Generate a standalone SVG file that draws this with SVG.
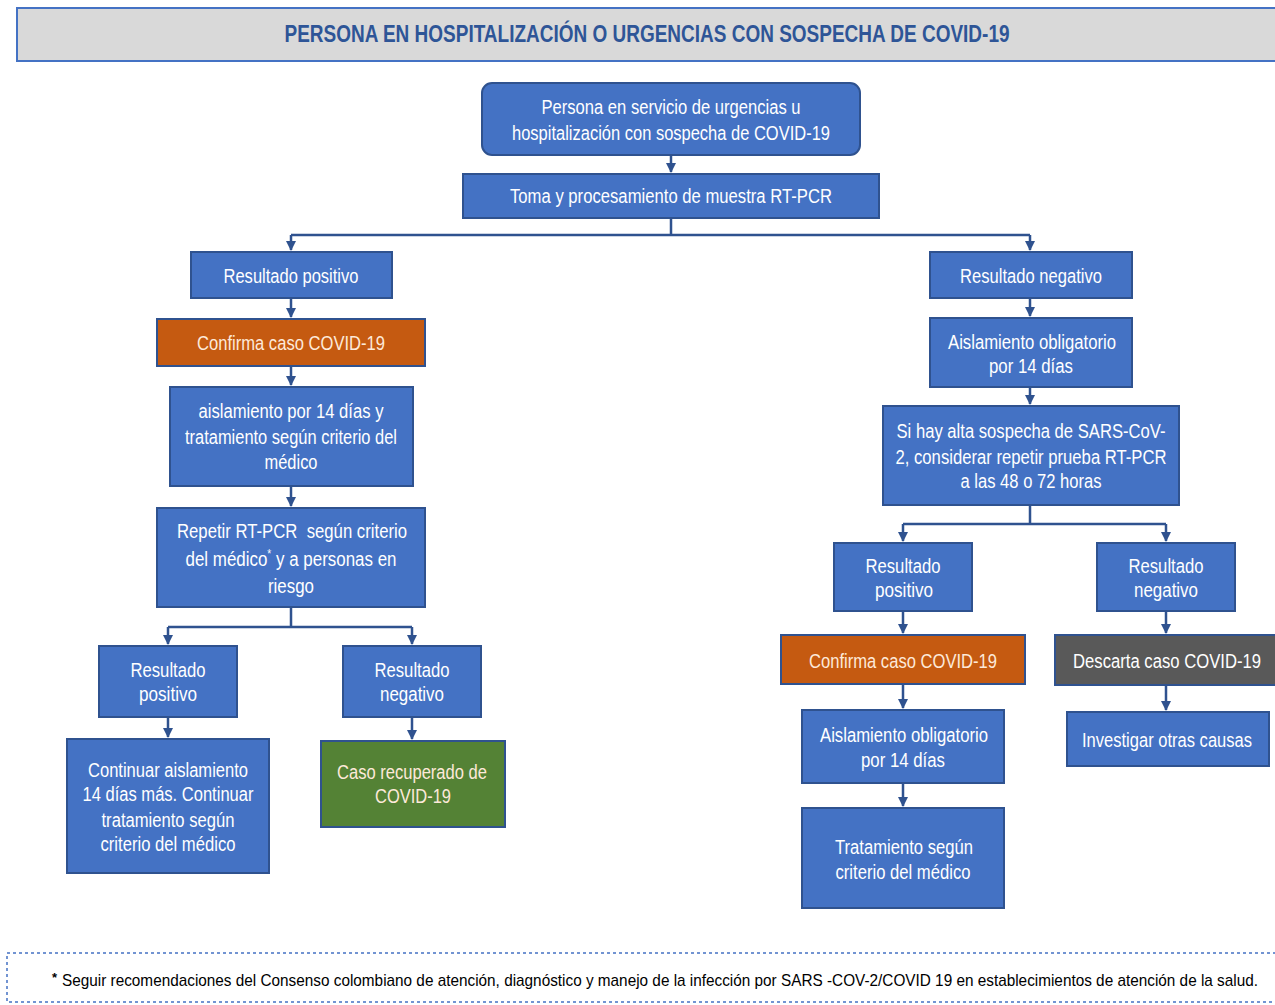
<svg xmlns="http://www.w3.org/2000/svg" width="1275" height="1005" viewBox="0 0 1275 1005">
<defs>
<marker id="ah" viewBox="0 0 10 10" refX="9" refY="5" markerWidth="4" markerHeight="4" orient="auto" markerUnits="strokeWidth">
<path d="M0,0 L10,5 L0,10 z" fill="#2f528f"/>
</marker>
<style>
.n{fill:#4472c4;stroke:#2f528f;stroke-width:2}
.o{fill:#c55a11;stroke:#2f528f;stroke-width:2}
.g{fill:#548235;stroke:#2f528f;stroke-width:2}
.k{fill:#595959;stroke:#2f528f;stroke-width:2}
.t{font-family:"Liberation Sans",Arial,sans-serif;font-size:20px;fill:#ffffff;text-anchor:middle}
.ty{font-family:"Liberation Sans",Arial,sans-serif;font-size:20px;fill:#fde9d9;text-anchor:middle}
.c{fill:none;stroke:#2f528f;stroke-width:2.5}
</style>
</defs>
<rect width="1275" height="1005" fill="#ffffff"/>
<g id="title">
<rect x="17" y="8" width="1270" height="53" fill="#d9d9d9" stroke="#4472c4" stroke-width="2"/>
<text x="647" y="42" font-family="'Liberation Sans',Arial,sans-serif" font-size="23" font-weight="bold" fill="#2e5597" text-anchor="middle" textLength="725" lengthAdjust="spacingAndGlyphs">PERSONA EN HOSPITALIZACIÓN O URGENCIAS CON SOSPECHA DE COVID-19</text>
</g>
<g id="connectors">
<path class="c" d="M671,155 V172" marker-end="url(#ah)"/>
<path class="c" d="M671,218 V235 M291,235 H1030"/>
<path class="c" d="M291,235 V250" marker-end="url(#ah)"/>
<path class="c" d="M1030,235 V250" marker-end="url(#ah)"/>
<path class="c" d="M291,298 V317" marker-end="url(#ah)"/>
<path class="c" d="M291,366 V385" marker-end="url(#ah)"/>
<path class="c" d="M291,486 V506" marker-end="url(#ah)"/>
<path class="c" d="M291,607 V627 M168,627 H412"/>
<path class="c" d="M168,627 V644" marker-end="url(#ah)"/>
<path class="c" d="M412,627 V644" marker-end="url(#ah)"/>
<path class="c" d="M168,717 V737" marker-end="url(#ah)"/>
<path class="c" d="M412,717 V739" marker-end="url(#ah)"/>
<path class="c" d="M1030,298 V316" marker-end="url(#ah)"/>
<path class="c" d="M1030,387 V404" marker-end="url(#ah)"/>
<path class="c" d="M1030,505 V524 M903,524 H1166"/>
<path class="c" d="M903,524 V541" marker-end="url(#ah)"/>
<path class="c" d="M1166,524 V541" marker-end="url(#ah)"/>
<path class="c" d="M903,611 V633" marker-end="url(#ah)"/>
<path class="c" d="M1166,611 V633" marker-end="url(#ah)"/>
<path class="c" d="M903,684 V708" marker-end="url(#ah)"/>
<path class="c" d="M1166,685 V710" marker-end="url(#ah)"/>
<path class="c" d="M903,783 V806" marker-end="url(#ah)"/>
</g>
<g id="n1"><rect class="n" x="482" y="83" width="378" height="72" rx="10"/>
<text class="t" x="671" y="114" textLength="259" lengthAdjust="spacingAndGlyphs">Persona en servicio de urgencias u</text>
<text class="t" x="671" y="140" textLength="318" lengthAdjust="spacingAndGlyphs">hospitalización con sospecha de COVID-19</text></g>
<g id="n2"><rect class="n" x="463" y="174" width="416" height="44"/>
<text class="t" x="671" y="203" textLength="322" lengthAdjust="spacingAndGlyphs">Toma y procesamiento de muestra RT-PCR</text></g>
<g id="n3"><rect class="n" x="191" y="252" width="201" height="46"/>
<text class="t" x="291" y="283" textLength="135" lengthAdjust="spacingAndGlyphs">Resultado positivo</text></g>
<g id="n4"><rect class="o" x="157" y="319" width="268" height="47"/>
<text class="ty" x="291" y="350" textLength="188" lengthAdjust="spacingAndGlyphs">Confirma caso COVID-19</text></g>
<g id="n5"><rect class="n" x="170" y="387" width="243" height="99"/>
<text class="t" x="291" y="418" textLength="185" lengthAdjust="spacingAndGlyphs">aislamiento por 14 días y</text>
<text class="t" x="291" y="444" textLength="212" lengthAdjust="spacingAndGlyphs">tratamiento según criterio del</text>
<text class="t" x="291" y="469" textLength="53" lengthAdjust="spacingAndGlyphs">médico</text></g>
<g id="n6"><rect class="n" x="157" y="508" width="268" height="99"/>
<text class="t" x="292" y="538" textLength="230" lengthAdjust="spacingAndGlyphs" xml:space="preserve">Repetir RT-PCR  según criterio</text>
<text class="t" x="291" y="566" textLength="211" lengthAdjust="spacingAndGlyphs">del médico<tspan font-size="12" dy="-8">*</tspan><tspan dy="8"> y a personas en</tspan></text>
<text class="t" x="291" y="593" textLength="46" lengthAdjust="spacingAndGlyphs">riesgo</text></g>
<g id="n7"><rect class="n" x="99" y="646" width="138" height="71"/>
<text class="t" x="168" y="677" textLength="75" lengthAdjust="spacingAndGlyphs">Resultado</text>
<text class="t" x="168" y="701" textLength="58" lengthAdjust="spacingAndGlyphs">positivo</text></g>
<g id="n8"><rect class="n" x="343" y="646" width="138" height="71"/>
<text class="t" x="412" y="677" textLength="75" lengthAdjust="spacingAndGlyphs">Resultado</text>
<text class="t" x="412" y="701" textLength="64" lengthAdjust="spacingAndGlyphs">negativo</text></g>
<g id="n9"><rect class="n" x="67" y="739" width="202" height="134"/>
<text class="t" x="168" y="777" textLength="160" lengthAdjust="spacingAndGlyphs">Continuar aislamiento</text>
<text class="t" x="168" y="801" textLength="171" lengthAdjust="spacingAndGlyphs">14 días más. Continuar</text>
<text class="t" x="168" y="827" textLength="133" lengthAdjust="spacingAndGlyphs">tratamiento según</text>
<text class="t" x="168" y="851" textLength="135" lengthAdjust="spacingAndGlyphs">criterio del médico</text></g>
<g id="n10"><rect class="g" x="321" y="741" width="184" height="86"/>
<text class="ty" x="412" y="779" textLength="150" lengthAdjust="spacingAndGlyphs">Caso recuperado de</text>
<text class="ty" x="413" y="803" textLength="76" lengthAdjust="spacingAndGlyphs">COVID-19</text></g>
<g id="n11"><rect class="n" x="930" y="252" width="202" height="46"/>
<text class="t" x="1031" y="283" textLength="142" lengthAdjust="spacingAndGlyphs">Resultado negativo</text></g>
<g id="n12"><rect class="n" x="930" y="318" width="202" height="69"/>
<text class="t" x="1032" y="349" textLength="168" lengthAdjust="spacingAndGlyphs">Aislamiento obligatorio</text>
<text class="t" x="1031" y="373" textLength="84" lengthAdjust="spacingAndGlyphs">por 14 días</text></g>
<g id="n13"><rect class="n" x="883" y="406" width="296" height="99"/>
<text class="t" x="1031" y="438" textLength="269" lengthAdjust="spacingAndGlyphs">Si hay alta sospecha de SARS-CoV-</text>
<text class="t" x="1031" y="464" textLength="271" lengthAdjust="spacingAndGlyphs">2, considerar repetir prueba RT-PCR</text>
<text class="t" x="1031" y="488" textLength="141" lengthAdjust="spacingAndGlyphs">a las 48 o 72 horas</text></g>
<g id="n14"><rect class="n" x="834" y="543" width="138" height="68"/>
<text class="t" x="903" y="573" textLength="75" lengthAdjust="spacingAndGlyphs">Resultado</text>
<text class="t" x="904" y="597" textLength="58" lengthAdjust="spacingAndGlyphs">positivo</text></g>
<g id="n15"><rect class="n" x="1097" y="543" width="138" height="68"/>
<text class="t" x="1166" y="573" textLength="75" lengthAdjust="spacingAndGlyphs">Resultado</text>
<text class="t" x="1166" y="597" textLength="64" lengthAdjust="spacingAndGlyphs">negativo</text></g>
<g id="n16"><rect class="o" x="781" y="635" width="244" height="49"/>
<text class="ty" x="903" y="668" textLength="188" lengthAdjust="spacingAndGlyphs">Confirma caso COVID-19</text></g>
<g id="n17"><rect class="k" x="1055" y="635" width="230" height="50"/>
<text class="t" x="1167" y="668" textLength="188" lengthAdjust="spacingAndGlyphs">Descarta caso COVID-19</text></g>
<g id="n18"><rect class="n" x="802" y="710" width="202" height="73"/>
<text class="t" x="904" y="742" textLength="168" lengthAdjust="spacingAndGlyphs">Aislamiento obligatorio</text>
<text class="t" x="903" y="767" textLength="84" lengthAdjust="spacingAndGlyphs">por 14 días</text></g>
<g id="n19"><rect class="n" x="1067" y="712" width="202" height="54"/>
<text class="t" x="1167" y="747" textLength="170" lengthAdjust="spacingAndGlyphs">Investigar otras causas</text></g>
<g id="n20"><rect class="n" x="802" y="808" width="202" height="100"/>
<text class="t" x="904" y="854" textLength="138" lengthAdjust="spacingAndGlyphs">Tratamiento según</text>
<text class="t" x="903" y="879" textLength="135" lengthAdjust="spacingAndGlyphs">criterio del médico</text></g>
<g id="footer">
<rect x="7" y="953" width="1280" height="49" fill="none" stroke="#4472c4" stroke-width="1.5" stroke-dasharray="3,3"/>
<text x="52" y="982" font-family="'Liberation Sans',Arial,sans-serif" font-size="13" font-weight="bold" fill="#000000">*</text>
<text x="62" y="986" font-family="'Liberation Sans',Arial,sans-serif" font-size="17" fill="#000000" textLength="1196" lengthAdjust="spacingAndGlyphs">Seguir recomendaciones del Consenso colombiano de atención, diagnóstico y manejo de la infección por SARS -COV-2/COVID 19 en establecimientos de atención de la salud.</text>
</g>
</svg>
